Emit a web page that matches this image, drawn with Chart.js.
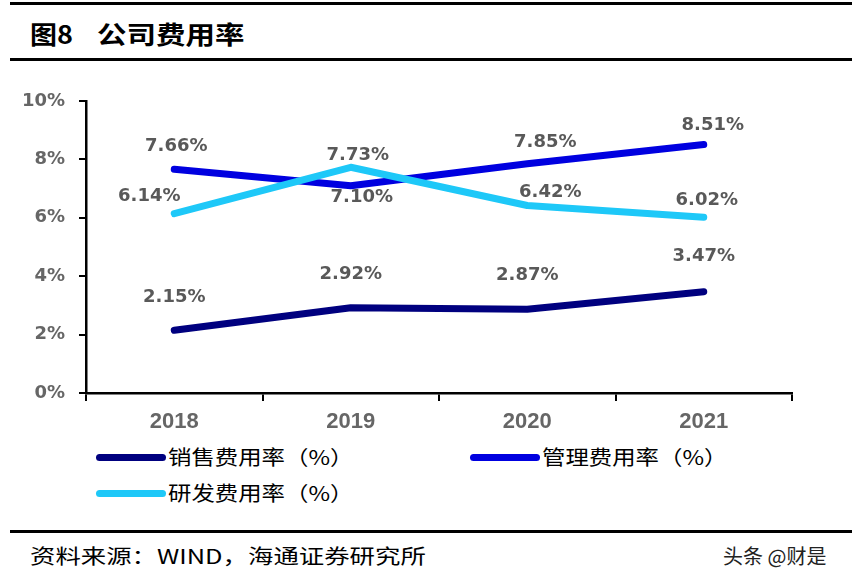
<!DOCTYPE html>
<html>
<head>
<meta charset="utf-8">
<script src="https://cdn.jsdelivr.net/npm/chart.js@4"></script>
<style>
  body { margin: 0; width: 852px; height: 584px; background: #fff; position: relative; overflow: hidden; }
  .rule { position: absolute; left: 10px; right: 0; background: #000; }
  .cjk { position: absolute; font-family: "Noto Sans CJK SC", sans-serif; white-space: nowrap; transform-origin: 0 50%; color: #000; line-height: 1.3; }
  #chartBox { position: absolute; left: 0; top: 70px; width: 852px; height: 370px; }
  .lg-line { position: absolute; height: 7px; border-radius: 4px; }
</style>
</head>
<body>
<div class="rule" style="top:2px;height:3px"></div>
<div class="cjk" style="left:30px;top:17px;font-size:25px;font-weight:bold;transform:scaleX(1.08)">图8</div>
<div class="cjk" style="left:97px;top:17px;font-size:25px;font-weight:bold;transform:scaleX(1.18)">公司费用率</div>
<div class="rule" style="top:58px;height:3px"></div>

<div id="chartBox"><canvas id="chart"></canvas></div>

<div id="legend"></div>

<div class="rule" style="top:530px;height:3px"></div>
<div class="cjk" style="left:30px;top:543px;font-size:20px;transform:scaleX(1.27)">资料来源：WIND，海通证券研究所</div>
<div class="cjk" style="left:723px;top:543px;font-size:20px;color:#222">头条 @财是</div>

<script>
//data
const years = ['2018', '2019', '2020', '2021'];
const salesRate = [2.15, 2.92, 2.87, 3.47];
const adminRate = [7.66, 7.10, 7.85, 8.51];
const rdRate = [6.14, 7.73, 6.42, 6.02];
const seriesNames = ['销售费用率（%）', '管理费用率（%）', '研发费用率（%）'];
const seriesColors = ['#00007f', '#0000e0', '#1ec8f8'];

//label offsets from each point, [dx, dy] in px
const labelOffsets = [
    [[0, -33], [0, -33], [0, -34], [0, -35]],
    [[2, -23], [11, 12], [18, -21], [9, -19]],
    [[-25, -17], [7, -12], [23, -13], [3, -17]]
];

//legend (html)
const legendSpots = [[96, 457], [470, 457], [96, 493]];
const legendBox = document.getElementById('legend');
seriesNames.forEach((name, i) => {
    const line = document.createElement('div');
    line.className = 'lg-line';
    line.style.left = legendSpots[i][0] + 'px';
    line.style.top = (legendSpots[i][1] - 3) + 'px';
    line.style.width = '70px';
    line.style.background = seriesColors[i];
    legendBox.appendChild(line);
    const txt = document.createElement('div');
    txt.className = 'cjk';
    txt.textContent = name;
    txt.style.left = (legendSpots[i][0] + 72) + 'px';
    txt.style.top = (legendSpots[i][1] - 13) + 'px';
    txt.style.fontSize = '20px';
    txt.style.transform = 'scaleX(1.17)';
    legendBox.appendChild(txt);
});

//value labels plugin
const valueLabels = {
    id: 'valueLabels',
    afterDatasetsDraw(chart) {
        const ctx = chart.ctx;
        ctx.save();
        ctx.font = 'bold 18px "DejaVu Sans"';
        ctx.fillStyle = '#595959';
        ctx.textAlign = 'center';
        ctx.textBaseline = 'middle';
        chart.data.datasets.forEach((ds, i) => {
            chart.getDatasetMeta(i).data.forEach((pt, j) => {
                const off = labelOffsets[i][j];
                ctx.fillText(ds.data[j].toFixed(2) + '%', pt.x + off[0], pt.y + off[1]);
            });
        });
        ctx.restore();
    }
};

const data = {
    labels: years,
    datasets: [
        { label: seriesNames[0], data: salesRate, borderColor: seriesColors[0], order: 2 },
        { label: seriesNames[1], data: adminRate, borderColor: seriesColors[1], order: 1 },
        { label: seriesNames[2], data: rdRate, borderColor: seriesColors[2], order: 0 }
    ]
};
data.datasets.forEach(ds => {
    ds.borderWidth = 7;
    ds.borderCapStyle = 'round';
    ds.borderJoinStyle = 'round';
    ds.pointRadius = 0;
    ds.tension = 0;
    ds.fill = false;
});

const options = {
    responsive: true,
    maintainAspectRatio: false,
    animation: false,
    layout: { padding: { left: 0, right: 60, top: 31, bottom: 0 } },
    plugins: {
        legend: { display: false },
        tooltip: { enabled: false }
    },
    scales: {
        x: {
            offset: true,
            grid: { offset: true, drawOnChartArea: false, color: '#000', lineWidth: 2, tickLength: 8 },
            border: { color: '#000', width: 2.5 },
            ticks: { color: '#666', font: { family: '"Liberation Sans", Arial', size: 22, weight: 'bold' }, padding: 8 },
            afterFit: s => { s.height = 47; }
        },
        y: {
            min: 0,
            max: 10,
            grid: { drawOnChartArea: false, color: '#000', lineWidth: 2, tickLength: 7 },
            border: { color: '#000', width: 2.5 },
            ticks: {
                stepSize: 2,
                color: '#666',
                font: { family: '"DejaVu Sans"', size: 18, weight: 'bold' },
                padding: 14,
                callback: v => v + '%'
            },
            afterFit: s => { s.width = 86; }
        }
    }
};

const chart = new Chart(document.getElementById('chart'), {
    type: 'line',
    data: data,
    options,
    plugins: [valueLabels]
});
</script>
</body>
</html>
